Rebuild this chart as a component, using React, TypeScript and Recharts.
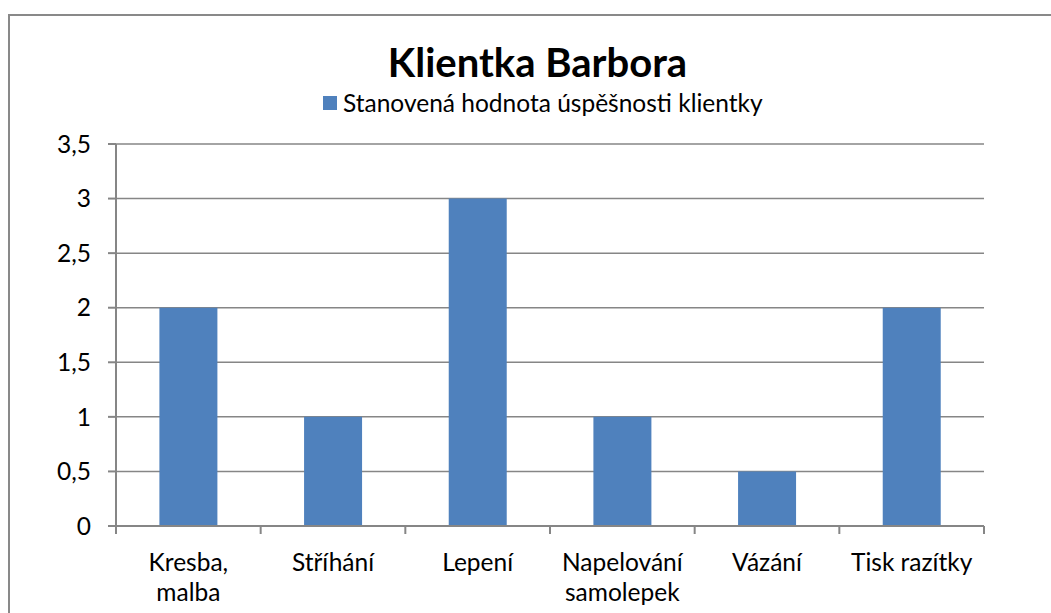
import { Bar, BarChart, CartesianGrid, XAxis, YAxis } from "recharts";

const CATEGORIES = [
  "Kresba, malba",
  "Stříhání",
  "Lepení",
  "Napelování samolepek",
  "Vázání",
  "Tisk razítky",
];
const VALUES = [2, 1, 3, 1, 0.5, 2];
const Y_TICKS = [0, 0.5, 1, 1.5, 2, 2.5, 3, 3.5];
const TITLE = "Klientka Barbora";
const SERIES_NAME = "Stanovená hodnota úspěšnosti klientky";

const data = CATEGORIES.map((name, i) => ({ name, value: VALUES[i] }));

const FONT = "Lato, 'Open Sans', sans-serif";
const AXIS = "#868686";
const BLUE = "#4F81BD";

function splitLabel(s: string) {
  if (s.length <= 12) return [s];
  const i = s.indexOf(" ");
  return [s.slice(0, i), s.slice(i + 1)];
}

function CatTick(props: any) {
  const { x, y, payload, index, visibleTicksCount } = props;
  const half = payload?.offset ?? 72.3;
  const lines = splitLabel(String(payload.value));
  const last = index === visibleTicksCount - 1;
  return (
    <g>
      <line x1={x - half} y1={y} x2={x - half} y2={y + 8} stroke={AXIS} strokeWidth={2} />
      {last && (
        <line x1={x + half} y1={y} x2={x + half} y2={y + 8} stroke={AXIS} strokeWidth={2} />
      )}
      {lines.map((l, k) => (
        <text
          key={k}
          x={x}
          y={y + 45 + k * 30}
          textAnchor="middle"
          fontFamily={FONT}
          fontSize={24.5}
          fill="#000"
        >
          {l}
        </text>
      ))}
    </g>
  );
}

export default function App() {
  return (
    <div style={{ position: "absolute", left: 0, top: 0, width: 1051, height: 613, overflow: "hidden" }}>
      <div
        style={{
          position: "absolute",
          left: 8,
          top: 14,
          width: 1043,
          height: 599,
          borderLeft: "2px solid #898989",
          borderTop: "2px solid #898989",
          boxSizing: "border-box",
        }}
      />
      <div
        style={{
          position: "absolute",
          left: 0,
          width: 1075,
          top: 38,
          textAlign: "center",
          fontFamily: FONT,
          fontWeight: 700,
          fontSize: 40,
          lineHeight: "48px",
          color: "#000",
        }}
      >
        {TITLE}
      </div>
      <div
        style={{
          position: "absolute",
          left: 323,
          top: 88,
          display: "flex",
          alignItems: "center",
          fontFamily: FONT,
          fontSize: 24.5,
          lineHeight: "29px",
          color: "#000",
          whiteSpace: "nowrap",
        }}
      >
        <span style={{ display: "inline-block", width: 14, height: 14, background: BLUE, marginRight: 6 }} />
        {SERIES_NAME}
      </div>
      <div style={{ position: "absolute", left: 0, top: 0 }}>
        <BarChart
          width={1051}
          height={613}
          data={data}
          margin={{ top: 144, right: 67, bottom: 0, left: 0 }}
          barCategoryGap="30%"
        >
          <CartesianGrid vertical={false} stroke={AXIS} strokeWidth={1.5} />
          <XAxis
            dataKey="name"
            height={87}
            stroke={AXIS}
            strokeWidth={2}
            tickLine={false}
            tickSize={0}
            tickMargin={0}
            interval={0}
            tick={<CatTick />}
          />
          <YAxis
            width={116}
            domain={[0, 3.5]}
            ticks={Y_TICKS}
            interval={0}
            stroke={AXIS}
            strokeWidth={2}
            tickSize={8}
            tickMargin={17}
            tickFormatter={(v: number) => String(v).replace(".", ",")}
            tick={{ fill: "#000", fontSize: 24.5, fontFamily: FONT }}
          />
          <Bar dataKey="value" fill={BLUE} isAnimationActive={false} />
        </BarChart>
      </div>
    </div>
  );
}
